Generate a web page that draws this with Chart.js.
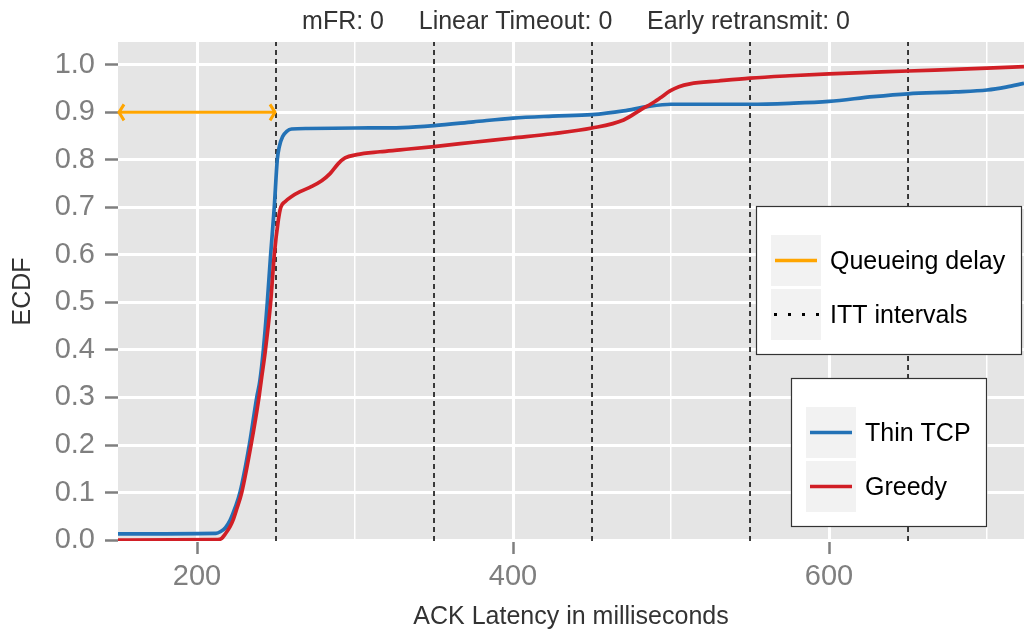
<!DOCTYPE html>
<html><head><meta charset="utf-8">
<script src="https://cdn.jsdelivr.net/npm/chart.js@4.4.0/dist/chart.umd.min.js"></script>
<style>html,body{margin:0;padding:0;background:#fff;} #wrap{width:1024px;height:634px;position:relative;}</style>
</head><body><div id="wrap"><canvas id="c" width="1024" height="634"></canvas></div>
<script>
const titleText = 'mFR: 0     Linear Timeout: 0     Early retransmit: 0';
const xTitle = 'ACK Latency in milliseconds';
const yTitle = 'ECDF';
const xTicks = [200, 300, 400, 500, 600, 700];
const xLabeled = [200, 400, 600];
const yTicks = [0, 0.1, 0.2, 0.3, 0.4, 0.5, 0.6, 0.7, 0.8, 0.9, 1.0];
const xRange = [150, 723.4];
const yRange = [-0.002, 1.048];
const ittX = [250, 350, 450, 550, 650];
const queueX = [150, 250];
const queueY = [0.9, 0.9];
const seriesNames = ['Thin TCP', 'Greedy'];
const guideNames = ['Queueing delay', 'ITT intervals'];

const thinX = [150, 212, 215, 218, 221, 224, 227.2, 233.1, 237.8, 239.8, 242, 244.5, 246.6, 248.9, 250.8, 252.1, 254.2, 256.8, 259.9, 270, 300, 330, 350, 375, 400, 425, 450, 470, 485, 500, 520, 550, 575, 600, 628, 650, 680, 700, 712, 723.4];
const thinY = [0.013, 0.014, 0.018, 0.026, 0.042, 0.067, 0.1, 0.2, 0.3, 0.335, 0.4, 0.5, 0.6, 0.7, 0.8, 0.828, 0.849, 0.86, 0.865, 0.866, 0.867, 0.868, 0.872, 0.88, 0.888, 0.892, 0.895, 0.903, 0.912, 0.917, 0.917, 0.917, 0.919, 0.923, 0.933, 0.939, 0.943, 0.947, 0.953, 0.961];

const greedyX = [150, 213, 215.5, 217.7, 220.9, 222.8, 224.9, 228.3, 234.2, 239.2, 240.7, 243.3, 246.6, 248.9, 251.5, 253, 255.7, 259.9, 265.2, 272.6, 278.9, 284.2, 289.4, 293.7, 301.1, 315.8, 328.5, 350, 375, 400, 425, 450, 470, 482.5, 487, 493, 499.4, 505, 512, 530, 550, 575, 600, 650, 700, 723.4];
const greedyY = [0, 0.001, 0.003, 0.012, 0.028, 0.042, 0.063, 0.1, 0.2, 0.3, 0.337, 0.4, 0.5, 0.6, 0.674, 0.7, 0.712, 0.723, 0.733, 0.744, 0.756, 0.771, 0.792, 0.804, 0.811, 0.817, 0.821, 0.828, 0.837, 0.846, 0.855, 0.867, 0.884, 0.909, 0.917, 0.93, 0.945, 0.954, 0.96, 0.966, 0.972, 0.977, 0.981, 0.987, 0.993, 0.996];

const FONT = "'Liberation Sans', Arial, Helvetica, sans-serif";
const BLUE = '#2372b6';
const RED = '#d11f26';
const ORANGE = '#FFA500';
const pts = (xs, ys) => xs.map((x, i) => ({x: x, y: ys[i]}));

const panelPlugin = {
  id: 'panel',
  beforeDraw(chart) {
    const {ctx, chartArea: a} = chart;
    ctx.save();
    ctx.fillStyle = '#e5e5e5';
    ctx.fillRect(a.left, a.top, a.right - a.left, a.bottom - a.top);
    ctx.restore();
  },
  afterDatasetsDraw(chart) {
    const {ctx, scales} = chart;
    const y = scales.y.getPixelForValue(queueY[0]);
    const x0 = scales.x.getPixelForValue(queueX[0]);
    const x1 = scales.x.getPixelForValue(queueX[1]);
    ctx.save();
    ctx.strokeStyle = ORANGE; ctx.lineWidth = 3; ctx.lineCap = 'butt'; ctx.lineJoin = 'miter';
    ctx.beginPath();
    ctx.moveTo(x0 + 6, y - 8); ctx.lineTo(x0 + 1, y); ctx.lineTo(x0 + 6, y + 8);
    ctx.moveTo(x1 - 6, y - 8); ctx.lineTo(x1 - 1, y); ctx.lineTo(x1 - 6, y + 8);
    ctx.stroke();
    ctx.restore();
  },
  afterDraw(chart) {
    const {ctx, chartArea: a} = chart;
    ctx.save();
    ctx.fillStyle = '#333';
    ctx.textAlign = 'center';
    ctx.textBaseline = 'middle';
    ctx.font = '25px ' + FONT;
    ctx.fillText(titleText, 576, 22);
    ctx.font = '25px ' + FONT;
    ctx.fillText(xTitle, (a.left + a.right) / 2, 617);
    ctx.save();
    ctx.translate(23, (a.top + a.bottom) / 2);
    ctx.rotate(-Math.PI / 2);
    ctx.fillText(yTitle, 0, 0);
    ctx.restore();

    function box(x, y, w, h) {
      ctx.fillStyle = '#fff';
      ctx.fillRect(x, y, w, h);
      ctx.strokeStyle = '#333';
      ctx.lineWidth = 1.2;
      ctx.strokeRect(x + 0.5, y + 0.5, w, h);
    }
    function key(x, y, label, draw) {
      ctx.fillStyle = '#f2f2f2';
      ctx.fillRect(x, y, 50, 51);
      draw(x, y + 25.5);
      ctx.fillStyle = '#000';
      ctx.textAlign = 'left';
      ctx.textBaseline = 'middle';
      ctx.font = '25px ' + FONT;
      ctx.fillText(label, x + 59, y + 27);
    }
    function solid(color) {
      return (x, y) => {
        ctx.strokeStyle = color; ctx.lineWidth = 3.5; ctx.setLineDash([]);
        ctx.beginPath(); ctx.moveTo(x + 4, y); ctx.lineTo(x + 46, y); ctx.stroke();
      };
    }
    box(756, 206, 265, 148);
    key(771, 235, guideNames[0], solid(ORANGE));
    key(771, 289, guideNames[1], (x, y) => {
      ctx.fillStyle = '#000';
      for (let i = 0; i < 4; i++) ctx.fillRect(x + 3 + i * 14, y - 1.5, 3, 3);
    });
    box(791, 378, 195, 148);
    key(806, 407, seriesNames[0], solid(BLUE));
    key(806, 461, seriesNames[1], solid(RED));
    ctx.restore();
  }
};

const datasets = [
  {label: guideNames[0], data: pts(queueX, queueY), showLine: true, borderColor: ORANGE, borderWidth: 3, pointRadius: 0, order: 0},
  {label: seriesNames[1], data: pts(greedyX, greedyY), showLine: true, borderColor: RED, borderWidth: 3.7, pointRadius: 0, cubicInterpolationMode: 'monotone', order: 1},
  {label: seriesNames[0], data: pts(thinX, thinY), showLine: true, borderColor: BLUE, borderWidth: 3.7, pointRadius: 0, cubicInterpolationMode: 'monotone', order: 2}
].concat(ittX.map(x => ({
  label: guideNames[1], data: [{x: x, y: yRange[0]}, {x: x, y: yRange[1]}], showLine: true,
  borderColor: '#000', borderWidth: 1.5, borderDash: [5, 4], pointRadius: 0, order: 3
})));

new Chart(document.getElementById('c'), {
  type: 'scatter',
  data: {datasets: datasets},
  options: {
    responsive: false, animation: false, devicePixelRatio: 1,
    layout: {padding: {top: 42, left: 0, right: 0, bottom: 0}},
    plugins: {legend: {display: false}, tooltip: {enabled: false}, title: {display: false}},
    scales: {
      x: {
        type: 'linear', min: xRange[0], max: xRange[1],
        afterBuildTicks: s => { s.ticks = xTicks.map(v => ({value: v})); },
        afterFit: s => { s.height = 93; },
        ticks: {
          callback: v => xLabeled.includes(v) ? String(v) : '',
          font: {size: 29, family: FONT}, color: '#7f7f7f', padding: 6, maxRotation: 0, autoSkip: false
        },
        grid: {
          color: '#ffffff',
          lineWidth: c => (c.tick && xLabeled.includes(c.tick.value)) ? 3 : 1.5,
          drawTicks: true, tickLength: 13, tickWidth: 2.5,
          tickColor: c => (c.tick && xLabeled.includes(c.tick.value)) ? '#7f7f7f' : 'rgba(0,0,0,0)'
        },
        border: {display: false}
      },
      y: {
        type: 'linear', min: yRange[0], max: yRange[1],
        afterBuildTicks: s => { s.ticks = yTicks.map(v => ({value: v})); },
        afterFit: s => { s.width = 118; },
        ticks: {
          callback: v => Number(v).toFixed(1),
          font: {size: 29, family: FONT}, color: '#7f7f7f', padding: 10, autoSkip: false
        },
        grid: {color: '#ffffff', lineWidth: 3, drawTicks: true, tickLength: 13, tickWidth: 2.5, tickColor: '#7f7f7f'},
        border: {display: false}
      }
    }
  },
  plugins: [panelPlugin]
});
</script>
</body></html>
